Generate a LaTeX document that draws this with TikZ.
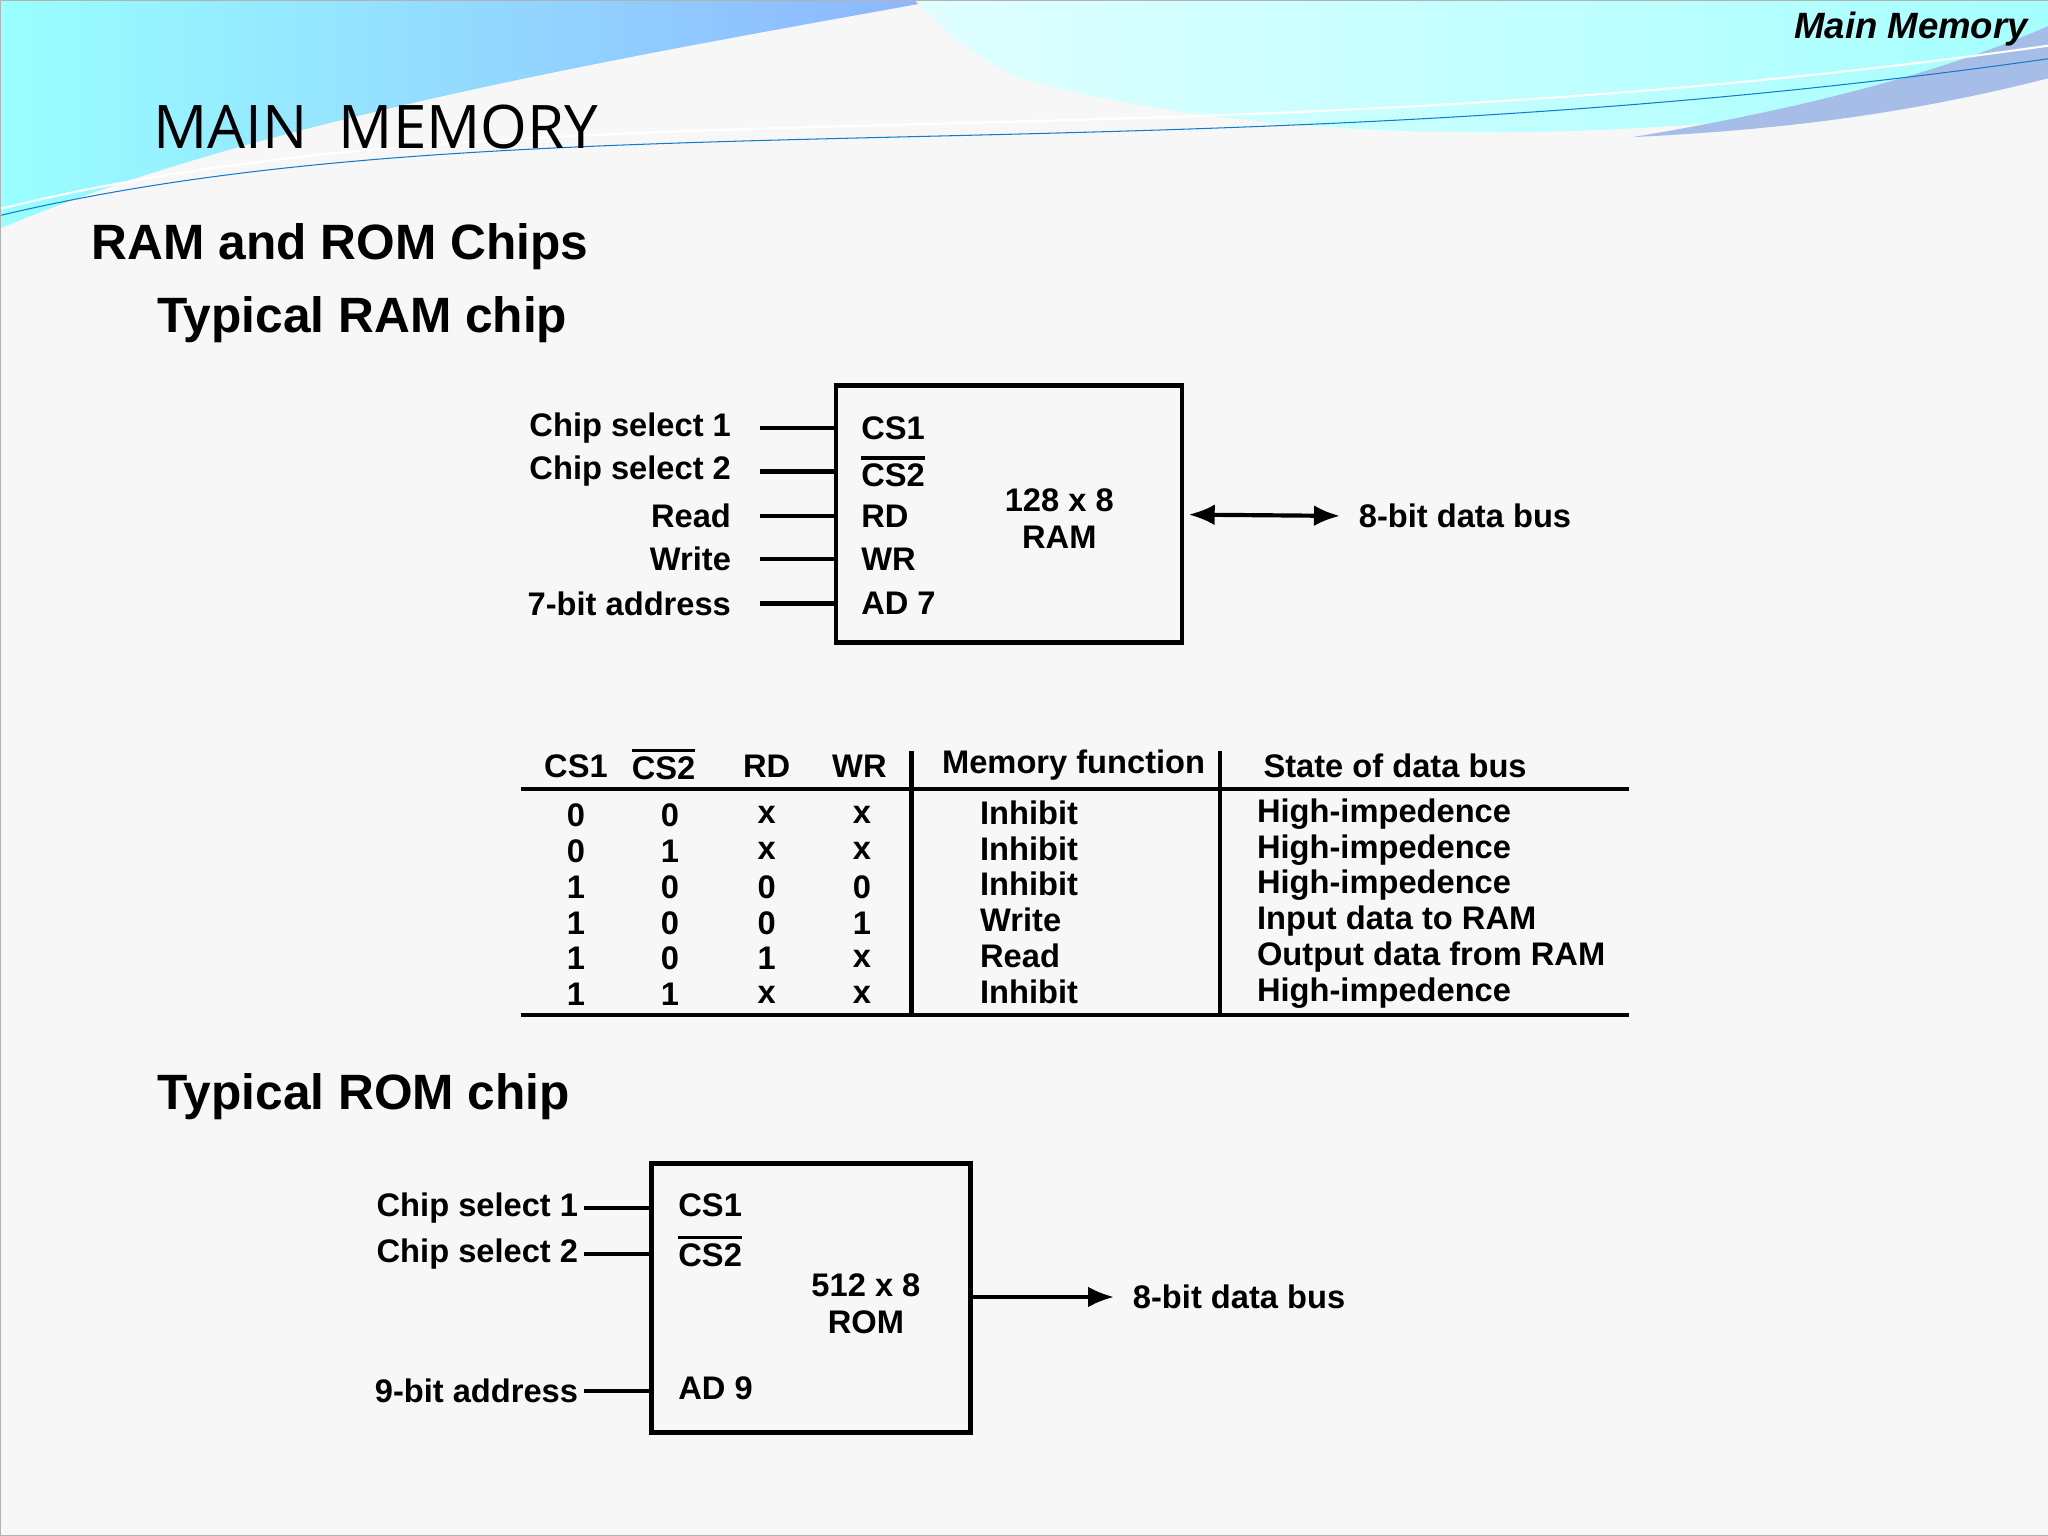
\documentclass[tikz,border=0pt]{standalone}
\usepackage{fontspec}
\setmainfont{Liberation Sans}
\newfontfamily\lightfont{Open Sans}
\usetikzlibrary{arrows.meta}
\newcommand{\ovl}[1]{\leavevmode\vbox{\hrule height 1.4pt\kern 1.6pt\hbox{#1}}}
\begin{document}
\begin{tikzpicture}[x=0.5pt,y=-0.5pt,
  lbl/.style={font=\fontsize{12.5}{14}\selectfont\bfseries, inner sep=0pt},
  cell/.style={font=\fontsize{12.5}{13}\selectfont\bfseries, inner sep=0pt},
  head/.style={font=\fontsize{19}{22}\selectfont\bfseries, inner sep=0pt, anchor=west},
  pin/.style={line width=1.6pt},
  box/.style={line width=1.8pt},
  rule/.style={line width=1.8pt}]
\useasboundingbox (0,0) rectangle (1568,1176);
\fill[gray!6] (0,0) rectangle (1568,1176);
% top wave
\shade[left color=cyan!40!white, right color=cyan!35!blue!45!white] (0,0) -- (720,0) .. controls (500,40) and (200,90) .. (0,175) -- cycle;
\shade[left color=cyan!12!white, right color=cyan!35!white] (700,0) -- (1568,0) -- (1568,60) .. controls (1300,110) and (1000,120) .. (780,60) .. controls (740,40) and (720,20) .. (700,0) -- cycle;
\fill[cyan!50!blue!35!white] (1568,20) -- (1568,60) .. controls (1450,90) and (1350,100) .. (1250,105) .. controls (1400,80) and (1500,50) .. (1568,20) -- cycle;
\draw[white, thick] (0,160) .. controls (400,60) and (900,130) .. (1568,35);
\draw[cyan!60!blue, thin] (0,165) .. controls (400,70) and (900,140) .. (1568,45);
\draw[gray!60] (0,0) rectangle (1568,1176);
% titles
\node[font=\fontsize{14}{16}\selectfont\bfseries\itshape, anchor=east, inner sep=0pt] (hdr) at (1553,22) {Main Memory};
\node[font=\fontsize{23}{26}\selectfont\lightfont, anchor=west, inner sep=0pt] (title) at (117,97) {MAIN\ \ MEMORY};
\node[head] (sub) at (70,189) {RAM and ROM Chips};
\node[head] (tram) at (120,245) {Typical RAM chip};
\node[head] (trom) at (120,840) {Typical ROM chip};
% RAM chip
\draw[box] (640,295) rectangle (905,492);
\foreach \t/\p/\y in {Chip select 1/CS1/328, Chip select 2/\ovl{CS2}/361, Read/RD/395, Write/WR/428, 7-bit address/AD 7/462}{
  \node[lbl, anchor=east] (l\y) at (560,\y) {\t};
  \node[lbl, anchor=west] (p\y) at (659,\y) {\p};
  \coordinate (s\y) at (582,\y);
  \coordinate (e\y) at (640,\y);
  \draw[pin] (s\y) -- (e\y);
}
\node[lbl, align=center] (ram) at (811,397) {128 x 8\\RAM};
\coordinate (ramout) at (910,394);
\node[lbl, anchor=west] (rambus) at (1040,395) {8-bit data bus};
\draw[pin, {Latex[length=10pt,width=8pt]}-{Latex[length=10pt,width=8pt]}] (ramout) -- ([xshift=-7pt]rambus.west);
% table
\draw[rule] (399,604) -- (1247,604);
\draw[rule] (399,777) -- (1247,777);
\draw[rule] (698,575) -- (698,777);
\draw[rule] (934,575) -- (934,777);
\node[cell] (h1) at (441,587) {CS1};
\node[cell] (h2) at (508,585) {\ovl{CS2}};
\node[cell] (h3) at (587,587) {RD};
\node[cell] (h4) at (658,587) {WR};
\node[cell] (h5) at (822,586) {Memory function};
\node[cell, anchor=west] (h6) at (967,586) {State of data bus};
\foreach \a/\b/\c/\d/\f/\s [count=\r] in {
 0/0/x/x/Inhibit/High-impedence,
 0/1/x/x/Inhibit/High-impedence,
 1/0/0/0/Inhibit/High-impedence,
 1/0/0/1/Write/Input data to RAM,
 1/0/1/x/Read/Output data from RAM,
 1/1/x/x/Inhibit/High-impedence}{
  \pgfmathsetmacro{\yy}{624+27.5*(\r-1)}
  \node[cell] (a\r) at (441,\yy) {\a};
  \node[cell] (b\r) at (513,\yy) {\b};
  \node[cell] (c\r) at (587,\yy) {\c};
  \node[cell] (d\r) at (660,\yy) {\d};
  \node[cell, anchor=west] (f\r) at (750,\yy-2) {\f};
  \node[cell, anchor=west] (g\r) at (962,\yy-1) {\s};
}
% ROM chip
\draw[box] (499,891) rectangle (743,1097);
\foreach \t/\p/\y in {Chip select 1/CS1/925, Chip select 2/\ovl{CS2}/960, 9-bit address/AD 9/1065}{
  \node[lbl, anchor=east] (m\y) at (443,\y) {\t};
  \node[lbl, anchor=west] (q\y) at (519,\y-2) {\p};
  \coordinate (e\y) at (499,\y);
  \draw[pin] ([xshift=2pt]m\y.east) -- (e\y);
}
\node[lbl, align=center] (rom) at (663,998) {512 x 8\\ROM};
\coordinate (romout) at (745,993);
\node[lbl, anchor=west] (rombus) at (867,993) {8-bit data bus};
\draw[pin, -{Latex[length=10pt,width=8pt]}] (romout) -- ([xshift=-7pt]rombus.west);
\end{tikzpicture}
\end{document}
